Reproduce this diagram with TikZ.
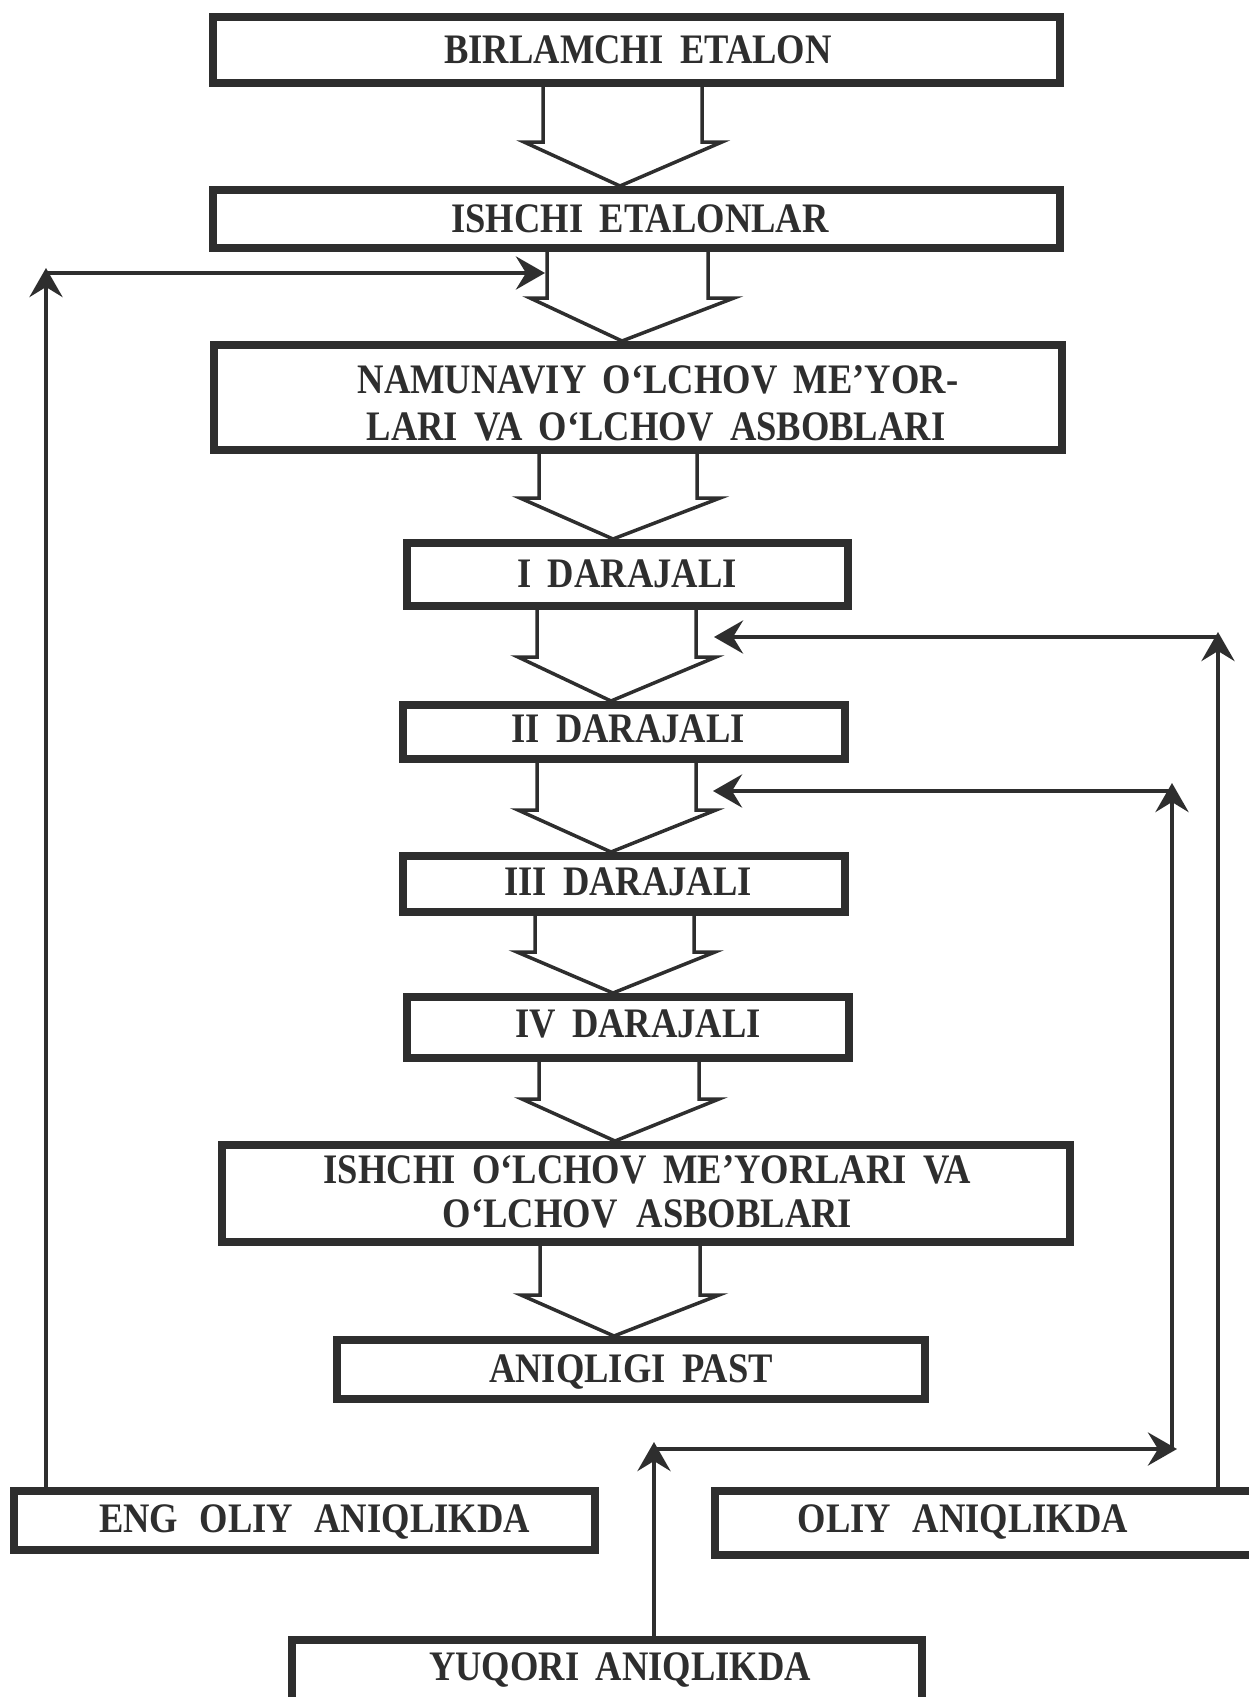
\documentclass[tikz,border=0pt]{standalone}
\usepackage{fontspec}
\setmainfont[FakeStretch=0.87,WordSpace=1.8]{Liberation Serif}
\usetikzlibrary{arrows.meta}
\definecolor{ink}{HTML}{2E2E2E}
\newcommand\blockarr[8]{\draw[barrow] (#1.south -| #3,0) -- (#3,#5) -- (#6,#5) -- (#2.north -| #8,0) -- (#7,#5) -- (#4,#5) -- (#1.south -| #4,0);}
\begin{document}
\begin{tikzpicture}[x=1pt,y=-1pt,
  box/.style={draw=ink, line width=8pt, inner sep=0pt, fill=white},
  lbl/.style={text=ink, inner sep=0pt, anchor=base, font=\fontsize{42}{48}\selectfont\bfseries},
  barrow/.style={draw=ink, line width=3.5pt, line join=miter},
  fb/.style={draw=ink, line width=4.5pt, -{Stealth[length=29pt,width=33pt,inset=10pt]}},
]
\useasboundingbox (0,0) rectangle (1249,1697);
\clip (0,0) rectangle (1249,1697);
% boxes
\node[box, minimum width=847pt, minimum height=66pt] (b1) at (636.5,50) {};
\node[box, minimum width=847pt, minimum height=58pt] (b2) at (636.5,219) {};
\node[box, minimum width=848pt, minimum height=105pt] (b3) at (638,397.5) {};
\node[box, minimum width=441pt, minimum height=63pt] (b4) at (627.5,574.5) {};
\node[box, minimum width=442pt, minimum height=54pt] (b5) at (624,732) {};
\node[box, minimum width=442pt, minimum height=56pt] (b6) at (624,884) {};
\node[box, minimum width=442pt, minimum height=61pt] (b7) at (628,1027.5) {};
\node[box, minimum width=848pt, minimum height=97pt] (b8) at (646,1193.5) {};
\node[box, minimum width=588pt, minimum height=59pt] (b9) at (631,1369.5) {};
\node[box, minimum width=581pt, minimum height=59pt] (eng) at (304.5,1520.5) {};
\node[box, minimum width=600pt, minimum height=64pt] (oliy) at (1015,1523) {};
\node[box, minimum width=630pt, minimum height=100pt] (yuq) at (607,1690) {};
% texts
\node[lbl] (t1) at (638,63) {BIRLAMCHI ETALON};
\node[lbl] (t2) at (640,232) {ISHCHI ETALONLAR};
\node[lbl] (t3a) at (658,393) {NAMUNAVIY O‘LCHOV ME’YOR-};
\node[lbl] (t3b) at (656,440) {LARI VA O‘LCHOV ASBOBLARI};
\node[lbl] (t4) at (627,587) {I DARAJALI};
\node[lbl] (t5) at (628,742) {II DARAJALI};
\node[lbl] (t6) at (628,895) {III DARAJALI};
\node[lbl] (t7) at (638,1037) {IV DARAJALI};
\node[lbl] (t8a) at (647.5,1183) {ISHCHI O‘LCHOV ME’YORLARI VA};
\node[lbl] (t8b) at (647.5,1227) {O‘LCHOV\hspace{3pt} ASBOBLARI};
\node[lbl] (t9) at (631,1382) {ANIQLIGI PAST};
\node[lbl] (t10) at (314.5,1532) {ENG\hspace{5pt} OLIY\hspace{5pt} ANIQLIKDA};
\node[lbl] (t11) at (963,1532) {OLIY\hspace{5pt} ANIQLIKDA};
\node[lbl] (t12) at (620,1680) {YUQORI ANIQLIKDA};
% hollow block arrows
\blockarr{b1}{b2}{543}{702}{142}{524}{722}{620}
\blockarr{b2}{b3}{547}{708}{298}{530}{734}{622}
\blockarr{b3}{b4}{539}{697}{498}{520}{720}{613}
\blockarr{b4}{b5}{537}{696}{657}{518}{716}{611}
\blockarr{b5}{b6}{537}{696}{810}{518}{716}{611}
\blockarr{b6}{b7}{535}{694}{952}{517}{715}{613}
\blockarr{b7}{b8}{539}{699}{1099}{522}{719}{615}
\blockarr{b8}{b9}{540}{700}{1295}{521}{719}{614}
% feedback arrows
\coordinate (lUp) at (46,268);
\coordinate (lCorner) at (43.75,273);
\coordinate (lEnd) at (545,273);
\draw[fb] (eng.north -| lUp) -- (lUp);
\draw[fb] (lCorner) -- (lEnd);
\coordinate (r1Up) at (1218,632);
\coordinate (r1Corner) at (1220.25,637);
\coordinate (r1End) at (714,637);
\draw[fb] (oliy.north -| r1Up) -- (r1Up);
\draw[fb] (r1Corner) -- (r1End);
\coordinate (yUp) at (654,1442);
\coordinate (yCorner) at (651.75,1449);
\coordinate (yRight) at (1177,1449);
\coordinate (r2Low) at (1172,1449);
\coordinate (r2Up) at (1172,783);
\coordinate (r2Corner) at (1174.25,791);
\coordinate (r2End) at (713,791);
\draw[fb] (yuq.north -| yUp) -- (yUp);
\draw[fb] (yCorner) -- (yRight);
\draw[fb] (r2Low) -- (r2Up);
\draw[fb] (r2Corner) -- (r2End);
\end{tikzpicture}
\end{document}
